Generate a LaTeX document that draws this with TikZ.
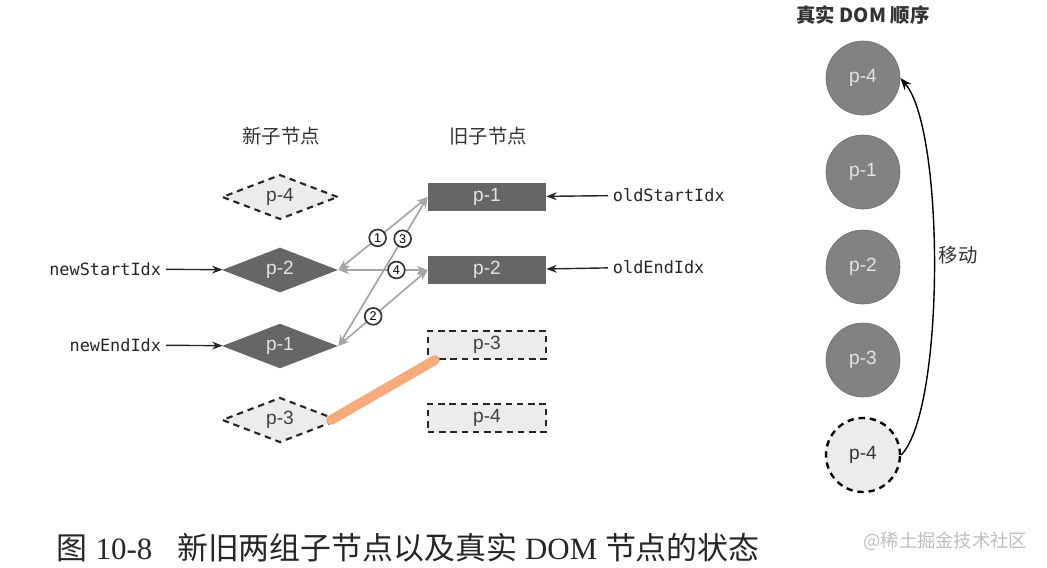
\documentclass[tikz,border=0pt]{standalone}
\usepackage{fontspec}
\setmainfont{Liberation Sans}
\setmonofont{DejaVu Sans Mono}
\newfontfamily\cjk{Noto Sans CJK SC}
\newfontfamily\capserif{Liberation Serif}
\usetikzlibrary{shapes.geometric, arrows.meta, positioning}
\definecolor{darknode}{RGB}{102,102,102}
\definecolor{domfill}{RGB}{130,130,130}
\definecolor{domedge}{RGB}{105,105,105}
\definecolor{ghostfill}{RGB}{236,236,236}
\definecolor{cmpline}{RGB}{165,165,165}
\definecolor{lighttext}{RGB}{228,228,228}
\definecolor{movecolor}{RGB}{246,172,122}
\definecolor{markgray}{RGB}{190,190,190}
\newcommand\labelsize{\fontsize{13.6}{16}\selectfont}
\newcommand\headsize{\fontsize{13.8}{16}\selectfont}
\tikzset{
  newnode/.style={diamond, fill=darknode, text=lighttext, inner sep=0pt,
                  minimum width=2.9cm, minimum height=0.9cm, font=\labelsize},
  newghost/.style={newnode, fill=ghostfill, text=black!75, draw=black!85,
                   line width=1.5pt, dash pattern=on 4.5pt off 3.5pt},
  oldnode/.style={rectangle, fill=darknode, text=lighttext, inner sep=0pt,
                  minimum width=2.95cm, minimum height=0.7cm, font=\labelsize},
  oldghost/.style={oldnode, fill=ghostfill, text=black!75, draw=black!85,
                   line width=1.5pt, dash pattern=on 4.5pt off 3.5pt},
  domnode/.style={circle, fill=domfill, draw=domedge, text=lighttext,
                  minimum size=1.85cm, inner sep=0pt, font=\labelsize},
  domghost/.style={domnode, fill=ghostfill, text=black!80, draw=black,
                   line width=1.7pt, dash pattern=on 4.5pt off 3.5pt},
  idx/.style={-{Stealth[length=2.6mm]}, line width=1pt, draw=black!85},
  cmp/.style={{Stealth[length=2.8mm]}-{Stealth[length=2.8mm]}, line width=1.2pt, draw=cmpline},
  tag/.style={circle, draw=black!80, fill=white, inner sep=0pt,
              minimum size=0.42cm, font=\small},
  head/.style={font=\cjk\headsize, text=black!80},
  ptr/.style={font=\ttfamily\large, text=black!85},
}

\begin{document}
\begin{tikzpicture}[x=0.025cm, y=-0.025cm]
\useasboundingbox (0,0) rectangle (1047,567);

% column titles
\node[head] (newtitle) at (281,136) {新子节点};
\node[head] (oldtitle) at (488,136) {旧子节点};
\node[head, font=\cjk\headsize\bfseries] (domtitle) at (863,15) {真实 DOM 顺序};

% new children
\node[newghost] (n4) at (280,197) {p-4};
\node[newnode]  (n2) at (280,270) {p-2};
\node[newnode]  (n1) at (280,346) {p-1};
\node[newghost] (n3) at (280,420) {p-3};

% old children
\node[oldnode]  (o1) at (487,197) {p-1};
\node[oldnode]  (o2) at (487,270) {p-2};
\node[oldghost] (o3) at (487,345) {p-3};
\node[oldghost] (o4) at (487,418) {p-4};

% index pointers
\node[ptr, anchor=east] (nsi) at (166,269) {newStartIdx};
\node[ptr, anchor=east] (nei) at (166,345) {newEndIdx};
\node[ptr, anchor=west] (osi) at (608,195) {oldStartIdx};
\node[ptr, anchor=west] (oei) at (608,267) {oldEndIdx};
\draw[idx] (nsi) -- (n2);
\draw[idx] (nei) -- (n1);
\draw[idx] (osi) -- (o1);
\draw[idx] (oei) -- (o2);

% comparisons
\draw[cmp] (n2.east) -- node[tag, pos=0.44] (c1) {1} (o1.west);
\draw[cmp] (n1.east) -- node[tag, pos=0.39] (c2) {2} (o2.west);
\draw[cmp] (n1.east) -- node[tag, pos=0.72] (c3) {3} (o1.west);
\draw[cmp] (n2.east) -- node[tag, pos=0.65] (c4) {4} (o2.west);

% p-3 moved
\draw[movecolor, line width=7pt, line cap=round] ([xshift=-0.2cm]n3.east) -- ([xshift=0.2cm]o3.south west);

% real DOM order
\node[domnode]  (d1) at (863,78)  {p-4};
\node[domnode]  (d2) at (863,172) {p-1};
\node[domnode]  (d3) at (863,267) {p-2};
\node[domnode]  (d4) at (863,360) {p-3};
\node[domghost] (d5) at (863,455) {p-4};
\draw[-{Stealth[length=3mm]}, line width=1pt] (d5.east) .. controls (945,410) and (945,130) .. (d1.east);
\node[head] (move) at (958,255) {移动};

% caption
\node[anchor=west, font=\capserif\fontsize{22}{26}\selectfont, text=black!85] (cap) at (52,548)
  {{\cjk 图} 10-8\hspace{0.8em}{\cjk 新旧两组子节点以及真实} DOM {\cjk 节点的状态}};
\node[anchor=east, font=\cjk\fontsize{13}{15}\selectfont, text=markgray] (mark) at (1032,541) {@稀土掘金技术社区};

\end{tikzpicture}
\end{document}
